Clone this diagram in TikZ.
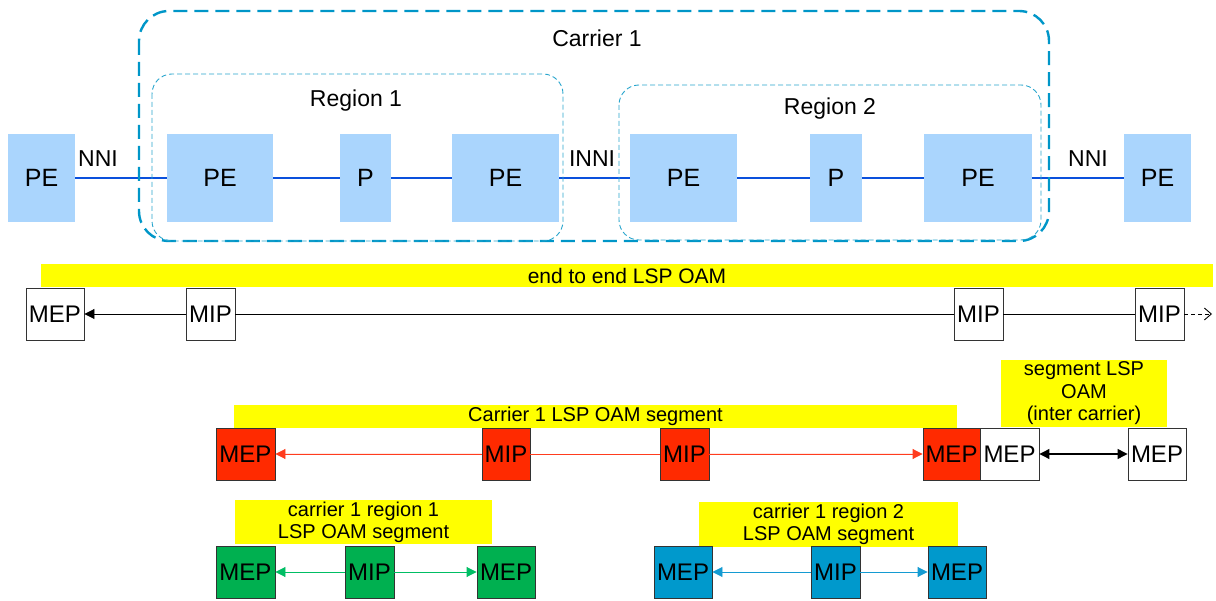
\documentclass[tikz,border=0pt]{standalone}
\usepackage{fontspec}
\setmainfont{Liberation Sans}
\usetikzlibrary{arrows.meta}
\definecolor{pefill}{RGB}{170,213,253}
\definecolor{carrierc}{RGB}{0,150,200}
\definecolor{regionc}{RGB}{40,165,205}
\definecolor{linkblue}{RGB}{10,80,220}
\definecolor{mepred}{RGB}{255,42,0}
\definecolor{arrred}{RGB}{255,60,30}
\definecolor{mepgreen}{RGB}{0,176,80}
\definecolor{arrgreen}{RGB}{0,190,100}
\definecolor{mepblue}{RGB}{0,153,204}
\definecolor{arrblue}{RGB}{20,155,210}
\definecolor{ylw}{RGB}{255,255,0}
\begin{document}
\begin{tikzpicture}[x=1pt,y=-1pt,
  pebox/.style={fill=pefill, draw=none, inner sep=0, minimum height=88, font=\fontsize{25}{30}\selectfont},
  link/.style={draw=linkblue, line width=1.6},
  lbl/.style={inner sep=0, font=\fontsize{23}{28}\selectfont},
  oambox/.style={draw=black!80, line width=0.9, inner sep=0, minimum height=52, font=\fontsize{24}{28}\selectfont},
  wbox/.style={oambox, fill=white},
  rbox/.style={oambox, fill=mepred},
  gbox/.style={oambox, fill=mepgreen},
  bbox/.style={oambox, fill=mepblue},
  ybar/.style={fill=ylw, draw=none, inner sep=0, align=center, font=\fontsize{20}{22}\selectfont},
  tri/.style={-{Triangle[length=10,width=10]}},
  dtri/.style={{Triangle[length=10,width=10]}-{Triangle[length=10,width=10]}}
]
\useasboundingbox (0,0) rectangle (1216,601);

% ---------- top network row ----------
\node[pebox, minimum width=67]  (pe1) at (41.5,178) {PE};
\node[pebox, minimum width=106] (pe2) at (220,178) {PE};
\node[pebox, minimum width=51]  (p1)  at (365.5,178) {P};
\node[pebox, minimum width=107] (pe3) at (505.5,178) {PE};
\node[pebox, minimum width=107] (pe4) at (683.5,178) {PE};
\node[pebox, minimum width=52]  (p2)  at (836,178) {P};
\node[pebox, minimum width=108] (pe5) at (978,178) {PE};
\node[pebox, minimum width=67]  (pe6) at (1157.5,178) {PE};

\draw[link] (pe1) -- (pe2);
\draw[link] (pe2) -- (p1);
\draw[link] (p1) -- (pe3);
\draw[link] (pe3) -- (pe4);
\draw[link] (pe4) -- (p2);
\draw[link] (p2) -- (pe5);
\draw[link] (pe5) -- (pe6);

\node[lbl] (nni1) at (98,159) {NNI};
\node[lbl] (inni) at (592,159) {INNI};
\node[lbl] (nni2) at (1088,159) {NNI};

\draw[draw=carrierc, line width=2.4, dash pattern=on 14 off 7, rounded corners=30]
  (139,11) rectangle (1049,241);
\node[lbl, anchor=base] (carrier) at (597,47) {Carrier 1};

\draw[draw=regionc, line width=0.9, dash pattern=on 5 off 3, rounded corners=20]
  (152,74) rectangle (563,241);
\node[lbl, anchor=base] (reg1) at (356,107) {Region 1};

\draw[draw=regionc, line width=0.9, dash pattern=on 5 off 3, rounded corners=20]
  (619,85) rectangle (1041,240);
\node[lbl, anchor=base] (reg2) at (830,115) {Region 2};

% ---------- end to end row ----------
\node[ybar, minimum width=1172, minimum height=23, font=\fontsize{21}{24}\selectfont] (e2e) at (627,275.5) {end to end LSP OAM};
\node[wbox, minimum width=58] (mep0) at (55,314) {MEP};
\node[wbox, minimum width=49] (mip1) at (210.5,314) {MIP};
\node[wbox, minimum width=49] (mip2) at (978.5,314) {MIP};
\node[wbox, minimum width=49] (mip3) at (1159.5,314) {MIP};
\coordinate (e2eend) at (1212,314);
\draw[tri, line width=0.9] (mip1) -- (mep0);
\draw[line width=0.9] (mip1) -- (mip2);
\draw[line width=0.9] (mip2) -- (mip3);
\draw[line width=0.9, dash pattern=on 4 off 3, -{Straight Barb[length=7,width=12]}] (mip3) -- (e2eend);

% ---------- carrier 1 segment row ----------
\node[ybar, minimum width=166, minimum height=67] (interc) at (1084,393.5) {segment LSP\\[0.5pt]OAM\\[0.5pt](inter carrier)};
\node[ybar, minimum width=723, minimum height=23] (c1seg) at (595.5,416.5) {Carrier 1 LSP OAM segment};
\node[rbox, minimum width=59] (mepR1) at (245.5,454) {MEP};
\node[rbox, minimum width=48] (mipR1) at (506,454) {MIP};
\node[rbox, minimum width=49] (mipR2) at (684.5,454) {MIP};
\node[rbox, minimum width=57] (mepR2) at (951.5,454) {MEP};
\node[wbox, minimum width=59] (mepW1) at (1009.5,454) {MEP};
\node[wbox, minimum width=58] (mepW2) at (1157,454) {MEP};
\draw[tri, draw=arrred, fill=arrred, line width=0.9] (mipR1) -- (mepR1);
\draw[draw=arrred, line width=0.9] (mipR1) -- (mipR2);
\draw[tri, draw=arrred, fill=arrred, line width=0.9] (mipR2) -- (mepR2);
\draw[dtri, line width=1.2] (mepW1) -- (mepW2);

% ---------- region segment rows ----------
\node[ybar, minimum width=257, minimum height=44] (r1seg) at (363.5,522) {carrier 1 region 1\\LSP OAM segment};
\node[gbox, minimum width=59] (mepG1) at (245.5,572) {MEP};
\node[gbox, minimum width=49] (mipG)  at (369.5,572) {MIP};
\node[gbox, minimum width=58] (mepG2) at (506,572) {MEP};
\draw[tri, draw=arrgreen, fill=arrgreen, line width=0.9] (mipG) -- (mepG1);
\draw[tri, draw=arrgreen, fill=arrgreen, line width=0.9] (mipG) -- (mepG2);

\node[ybar, minimum width=259, minimum height=45] (r2seg) at (828.5,524.5) {carrier 1 region 2\\LSP OAM segment};
\node[bbox, minimum width=58] (mepB1) at (683,572) {MEP};
\node[bbox, minimum width=49] (mipB)  at (835.5,572) {MIP};
\node[bbox, minimum width=58] (mepB2) at (957,572) {MEP};
\draw[tri, draw=arrblue, fill=arrblue, line width=0.9] (mipB) -- (mepB1);
\draw[tri, draw=arrblue, fill=arrblue, line width=0.9] (mipB) -- (mepB2);
\end{tikzpicture}
\end{document}
